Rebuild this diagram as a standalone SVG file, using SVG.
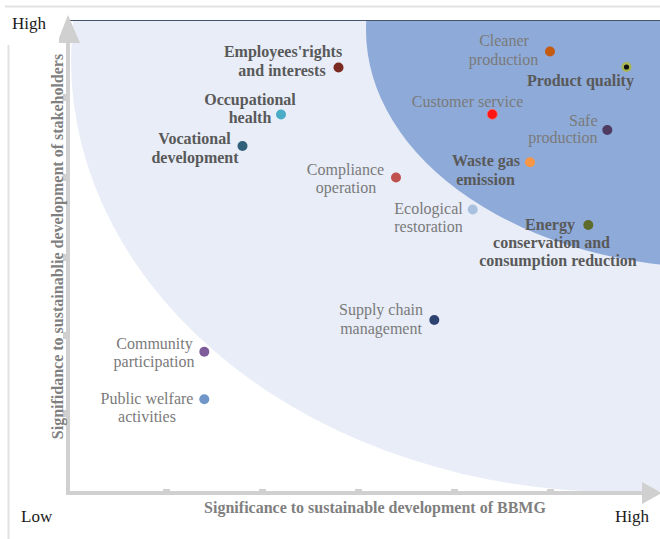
<svg xmlns="http://www.w3.org/2000/svg" width="660" height="539" viewBox="0 0 660 539">
<style>
text{font-family:"Liberation Serif","Times New Roman",serif;font-size:16px}
.r{fill:#7a7a7a}
.b{fill:#595959;font-weight:bold}
.m{text-anchor:middle}
.e{text-anchor:end}
.ax{fill:#7f7f7f;font-weight:bold;text-anchor:middle}
.hl{fill:#1a1a1a;font-size:17px}
.axis{fill:#d0d0d0}
</style>
<defs>
<clipPath id="plot"><rect x="70" y="20" width="590" height="472"/></clipPath>
</defs>
<rect width="660" height="539" fill="#ffffff"/>
<g id="frame">
<line x1="5" y1="6.5" x2="660" y2="6.5" stroke="#e2e2e2" stroke-width="2"/>
<line x1="8.5" y1="45" x2="8.5" y2="539" stroke="#e2e2e2" stroke-width="2"/>
</g>
<g id="regions" clip-path="url(#plot)">
<ellipse cx="620" cy="60" rx="549" ry="432" fill="#e8edf8"/>
<ellipse cx="720" cy="30" rx="354" ry="238" fill="#8eaad8"/>
</g>
<line x1="70" y1="20.5" x2="660" y2="20.5" stroke="#44546a" stroke-width="1"/>
<g id="axes">
<rect class="axis" x="66" y="38" width="4" height="457"/>
<polygon class="axis" points="68,15 80,43 57,43"/>
<rect class="axis" x="66" y="491" width="578" height="4"/>
<polygon class="axis" points="662,493 642,482 642,504"/>
<rect class="axis" x="163" y="489" width="7" height="3"/>
<rect class="axis" x="259" y="489" width="7" height="3"/>
<rect class="axis" x="355" y="489" width="7" height="3"/>
<rect class="axis" x="451" y="489" width="7" height="3"/>
<rect class="axis" x="547" y="489" width="7" height="3"/>
<rect class="axis" x="63" y="94" width="3" height="7"/>
<rect class="axis" x="63" y="174" width="3" height="7"/>
<rect class="axis" x="63" y="254" width="3" height="7"/>
<rect class="axis" x="63" y="332" width="3" height="7"/>
<rect class="axis" x="63" y="410" width="3" height="7"/>
</g>
<g id="axis-labels">
<rect x="9" y="8" width="50" height="36" fill="#ffffff"/>
<text class="hl" x="12" y="29">High</text>
<text class="hl" x="21" y="522">Low</text>
<text class="hl" x="615" y="522">High</text>
<text class="ax" x="375" y="513">Significance to sustainable development of BBMG</text>
<text class="ax" transform="translate(63,246.5) rotate(-90)">Signifidance to sustainablie development of stakeholders</text>
</g>
<g id="employees">
<circle cx="338.5" cy="67.5" r="5" fill="#7b2a21"/>
<text class="b m" x="283" y="57">Employees'rights</text>
<text class="b m" x="282" y="76">and interests</text>
</g>
<g id="occupational-health">
<circle cx="281" cy="114.5" r="5" fill="#4bacc6"/>
<text class="b m" x="250" y="105">Occupational</text>
<text class="b m" x="250" y="123">health</text>
</g>
<g id="vocational-development">
<circle cx="242.5" cy="146" r="5" fill="#31607a"/>
<text class="b m" x="194.5" y="144">Vocational</text>
<text class="b m" x="195" y="162.5">development</text>
</g>
<g id="compliance-operation">
<circle cx="396" cy="177.5" r="5" fill="#c0504d"/>
<text class="r m" x="345.5" y="175">Compliance</text>
<text class="r m" x="346" y="192.5">operation</text>
</g>
<g id="cleaner-production">
<circle cx="550" cy="51.5" r="5" fill="#c55a11"/>
<text class="r m" x="504" y="46">Cleaner</text>
<text class="r m" x="503.5" y="64.5">production</text>
</g>
<g id="product-quality">
<circle cx="626.5" cy="67" r="5" fill="#a9b653"/>
<circle cx="626.5" cy="67" r="2.6" fill="#111111"/>
<text class="b m" x="580.5" y="86">Product quality</text>
</g>
<g id="customer-service">
<circle cx="492.3" cy="114.3" r="5" fill="#ff1414" stroke="#ff6a6a" stroke-width="0.8"/>
<text class="r m" x="467.5" y="106.5">Customer service</text>
</g>
<g id="safe-production">
<circle cx="607.3" cy="130" r="5" fill="#4f3a61"/>
<text class="r e" x="597.5" y="126">Safe</text>
<text class="r e" x="597.5" y="143">production</text>
</g>
<g id="waste-gas-emission">
<circle cx="530" cy="162.3" r="5" fill="#f79646"/>
<text class="b m" x="486" y="166">Waste gas</text>
<text class="b m" x="485.5" y="184.5">emission</text>
</g>
<g id="ecological-restoration">
<circle cx="472.7" cy="209.5" r="5" fill="#a9c0de"/>
<text class="r m" x="428.5" y="214">Ecological</text>
<text class="r m" x="428.5" y="231.5">restoration</text>
</g>
<g id="energy-conservation">
<circle cx="588.3" cy="225" r="5" fill="#5f6b2a"/>
<text class="b m" x="550" y="229.5">Energy</text>
<text class="b m" x="551.5" y="247.5">conservation and</text>
<text class="b m" x="558" y="265.5">consumption reduction</text>
</g>
<g id="supply-chain-management">
<circle cx="434.3" cy="320" r="5" fill="#2f4370"/>
<text class="r m" x="381" y="315">Supply chain</text>
<text class="r m" x="381" y="333.5">management</text>
</g>
<g id="community-participation">
<circle cx="204.3" cy="351.7" r="5" fill="#7e5b9b"/>
<text class="r m" x="154.5" y="348.5">Community</text>
<text class="r m" x="154" y="366.5">participation</text>
</g>
<g id="public-welfare-activities">
<circle cx="204.3" cy="399.3" r="5" fill="#7097c8"/>
<text class="r m" x="147" y="404">Public welfare</text>
<text class="r m" x="147" y="422">activities</text>
</g>
<g id="connectors"></g>
</svg>
